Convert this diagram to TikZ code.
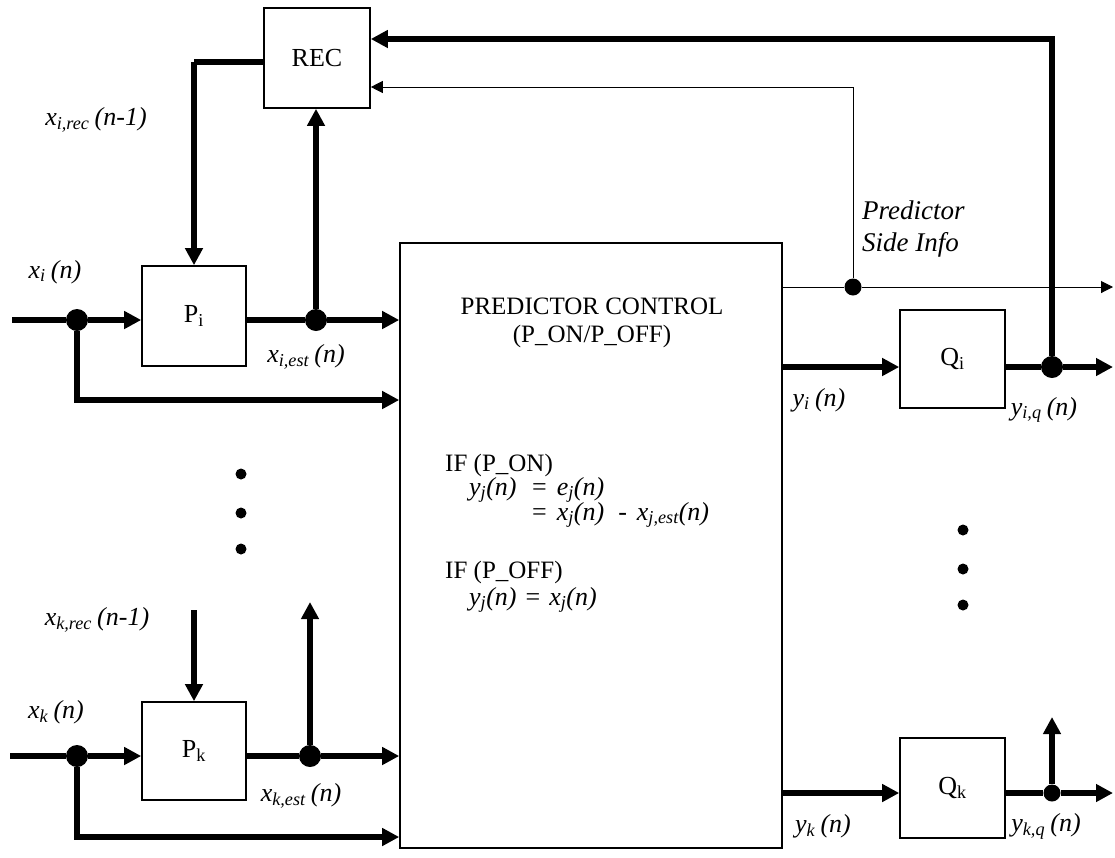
\documentclass[tikz,border=0pt]{standalone}
\usepackage{fontspec}
\setmainfont{Liberation Serif}
\usetikzlibrary{arrows.meta}
\newcommand{\gp}{\hspace{0.2em}}
\begin{document}
\begin{tikzpicture}[x=1pt,y=-1pt,
  blk/.style={draw,line width=1.6pt,minimum width=104pt,minimum height=100pt,inner sep=0pt,font=\fontsize{26}{30}\selectfont},
  bigbox/.style={draw,line width=1.6pt,minimum width=382pt,minimum height=605pt,inner sep=0pt},
  thk/.style={line width=6pt},
  thn/.style={line width=1pt},
  thkarr/.style={thk,-{Triangle[length=17pt,width=17pt]}},
  thnarr/.style={thn,-{Triangle[length=12pt,width=12pt]}},
  bigdot/.style={circle,fill,inner sep=0pt,minimum size=22pt},
  smalldot/.style={circle,fill,inner sep=0pt,minimum size=17pt},
  vdot/.style={circle,fill,inner sep=0pt,minimum size=11pt},
  lab/.style={font=\fontsize{26}{30}\selectfont\itshape,inner sep=0pt},
  eqn/.style={font=\fontsize{26}{30}\selectfont\itshape,inner sep=0pt,anchor=west},
  txt/.style={font=\fontsize{25}{29}\selectfont,inner sep=0pt}
]
\useasboundingbox (0,0) rectangle (1115,857);

% blocks
\node[blk,minimum width=106pt,font=\fontsize{26}{30}\selectfont] (rec) at (317,58) {REC};
\node[bigbox] (pc) at (591,545.5) {};
\node[blk] (pi) at (194,316) {P\textsubscript{i}};
\node[blk,minimum height=98pt] (pk) at (194,751) {P\textsubscript{k}};
\node[blk,minimum width=105pt,minimum height=98pt] (qi) at (952.5,359) {Q\textsubscript{i}};
\node[blk,minimum width=105pt] (qk) at (952.5,788) {Q\textsubscript{k}};

% junction dots
\node[bigdot] (di1) at (77,320) {};
\node[bigdot] (de1) at (316,320) {};
\node[smalldot] (dsi) at (853,287) {};
\node[bigdot] (dqi) at (1052,367) {};
\node[bigdot] (dk1) at (77,756) {};
\node[bigdot] (dek) at (310,756) {};
\node[smalldot] (dqk) at (1052,793) {};

% helper coordinates
\coordinate (ini) at (12,320);
\coordinate (ink) at (10,756);
\coordinate (yfb) at (0,39);
\coordinate (ysi) at (0,87);
\coordinate (yrec) at (0,62);
\coordinate (ybri) at (0,400);
\coordinate (ybrk) at (0,837);
\coordinate (ysl) at (0,287);
\coordinate (yyi) at (0,367);
\coordinate (yyk) at (0,793);
\coordinate (xout) at (1113,0);
\coordinate (pkin) at (194,610);
\coordinate (pkup) at (310,602);
\coordinate (qkup) at (1052,717);

% upper channel i
\draw[thk] (ini) -- (di1);
\draw[thkarr] (di1) -- (pi.west |- di1);
\draw[thkarr] (di1) |- (pc.west |- ybri);
\draw[thk] (pi.east |- de1) -- (de1);
\draw[thkarr] (de1) -- (pc.west |- de1);
\draw[thkarr] (de1) -- (rec.south -| de1);
\draw[thk] (rec.west |- yrec) -- (pi.north |- yrec);
\draw[thkarr] (pi.north |- yrec) -- (pi.north);

% lower channel k
\draw[thk] (ink) -- (dk1);
\draw[thkarr] (dk1) -- (pk.west |- dk1);
\draw[thkarr] (dk1) |- (pc.west |- ybrk);
\draw[thk] (pk.east |- dek) -- (dek);
\draw[thkarr] (dek) -- (pc.west |- dek);
\draw[thkarr] (dek) -- (pkup);
\draw[thkarr] (pkin) -- (pk.north);

% right side
\draw[thkarr] (pc.east |- yyi) -- (qi.west |- yyi);
\draw[thk] (qi.east |- yyi) -- (dqi);
\draw[thkarr] (dqi) -- (xout |- yyi);
\draw[thkarr] (dqi) |- (rec.east |- yfb);
\draw[thn] (pc.east |- ysl) -- (dsi);
\draw[thnarr] (dsi) -- (xout |- ysl);
\draw[thnarr] (dsi) |- (rec.east |- ysi);
\draw[thkarr] (pc.east |- yyk) -- (qk.west |- yyk);
\draw[thk] (qk.east |- yyk) -- (dqk);
\draw[thkarr] (dqk) -- (xout |- yyk);
\draw[thkarr] (dqk) -- (qkup);

% ellipsis dots
\node[vdot] (l1) at (241,474) {};
\node[vdot] (l2) at (241,513) {};
\node[vdot] (l3) at (241,549) {};
\node[vdot] (r1) at (963,530) {};
\node[vdot] (r2) at (963,569) {};
\node[vdot] (r3) at (963,605) {};

% signal labels
\node[lab] (lxirec) at (96,120) {x\textsubscript{i,rec}\gp(n-1)};
\node[lab] (lxi) at (55,272) {x\textsubscript{i}\gp(n)};
\node[lab] (lxiest) at (306,357) {x\textsubscript{i,est}\gp(n)};
\node[lab] (lxkrec) at (97,620) {x\textsubscript{k,rec}\gp(n-1)};
\node[lab] (lxk) at (56,712) {x\textsubscript{k}\gp(n)};
\node[lab] (lxkest) at (301,796) {x\textsubscript{k,est}\gp(n)};
\node[lab] (lyi) at (819,400) {y\textsubscript{i}\gp(n)};
\node[lab] (lyiq) at (1044,410) {y\textsubscript{i,q}\gp(n)};
\node[lab] (lyk) at (823,826) {y\textsubscript{k}\gp(n)};
\node[lab] (lykq) at (1046,826) {y\textsubscript{k,q}\gp(n)};
\node[lab,anchor=west,align=left,font=\fontsize{27}{32}\selectfont\itshape] (psi) at (862,229) {Predictor\\Side Info};

% text inside predictor control
\node[txt] (t1) at (592,306) {PREDICTOR CONTROL};
\node[txt] (t2) at (592,336) {(P\_ON/P\_OFF)};
\node[txt,anchor=west] (t3) at (445,465) {IF (P\_ON)};
\node[eqn] (t4) at (469,490) {y\textsubscript{j}(n)};
\node[eqn] (t5) at (532,490) {\upshape=\hspace{10pt}\itshape e\textsubscript{j}(n)};
\node[eqn] (t6) at (532,515) {\upshape=\hspace{10pt}\itshape x\textsubscript{j}(n)\hspace{14pt}-\hspace{10pt}x\textsubscript{j,est}(n)};
\node[txt,anchor=west] (t7) at (445,572) {IF (P\_OFF)};
\node[eqn] (t8) at (469,600) {y\textsubscript{j}(n)\hspace{9pt}\upshape=\hspace{9pt}\itshape x\textsubscript{j}(n)};
\end{tikzpicture}
\end{document}
